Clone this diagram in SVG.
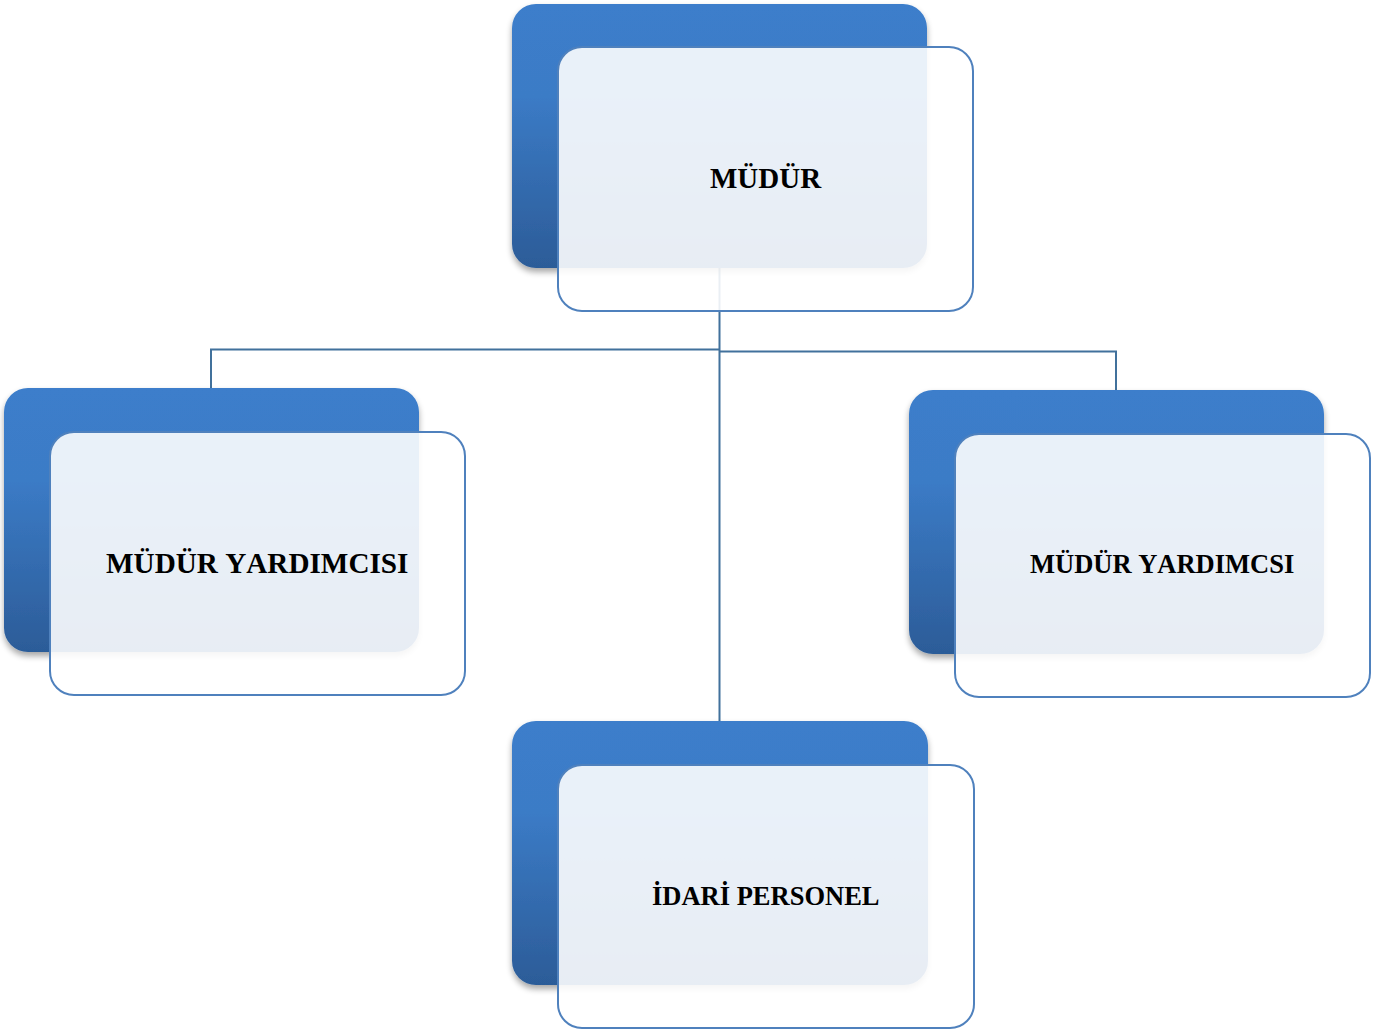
<svg xmlns="http://www.w3.org/2000/svg" width="1383" height="1032" viewBox="0 0 1383 1032">
<defs>
<linearGradient id="dark" x1="0" y1="0" x2="0" y2="1">
<stop offset="0" stop-color="#3c7ecb"/>
<stop offset="0.35" stop-color="#3b7bc6"/>
<stop offset="1" stop-color="#2c5c98"/>
</linearGradient>
<filter id="sh" x="-10%" y="-10%" width="120%" height="125%">
<feGaussianBlur in="SourceAlpha" stdDeviation="3"/>
<feOffset dx="0" dy="4"/>
<feComponentTransfer><feFuncA type="linear" slope="0.35"/></feComponentTransfer>
<feMerge><feMergeNode/><feMergeNode in="SourceGraphic"/></feMerge>
</filter>
<style>
.dark{fill:url(#dark);filter:url(#sh)}
.light{fill:#ffffff;fill-opacity:0.89;stroke:#4f81bd;stroke-width:2}
.conn{fill:none;stroke:#41719c;stroke-width:2}
.lbl{font-family:"Liberation Serif","Times New Roman",serif;font-weight:bold;font-size:29px;fill:#000;font-kerning:none}
</style>
</defs>
<rect width="1383" height="1032" fill="#ffffff"/>
<g id="connectors">
<path class="conn" d="M719.5 268 V721"/>
<path class="conn" d="M719.5 349.5 H211 V388"/>
<path class="conn" d="M719.5 351.5 H1116 V390"/>
</g>
<g id="node-mudur">
<rect class="dark" x="512" y="4" width="415" height="264" rx="24"/>
<rect class="light" x="558" y="47" width="415" height="264" rx="24"/>
<text class="lbl" x="710" y="188">MÜDÜR</text>
</g>
<g id="node-yardimcisi-left">
<rect class="dark" x="4" y="388" width="415" height="264" rx="24"/>
<rect class="light" x="50" y="432" width="415" height="263" rx="24"/>
<text class="lbl" x="106" y="573" style="font-size:29.2px">MÜDÜR YARDIMCISI</text>
</g>
<g id="node-yardimcisi-right">
<rect class="dark" x="909" y="390" width="415" height="264" rx="24"/>
<rect class="light" x="955" y="434" width="415" height="263" rx="24"/>
<text class="lbl" x="1030" y="573" style="font-size:26.5px">MÜDÜR YARDIMCSI</text>
</g>
<g id="node-idari">
<rect class="dark" x="512" y="721" width="416" height="264" rx="24"/>
<rect class="light" x="558" y="765" width="416" height="263" rx="24"/>
<text class="lbl" x="652" y="905" style="font-size:26.5px">İDARİ PERSONEL</text>
</g>
</svg>
